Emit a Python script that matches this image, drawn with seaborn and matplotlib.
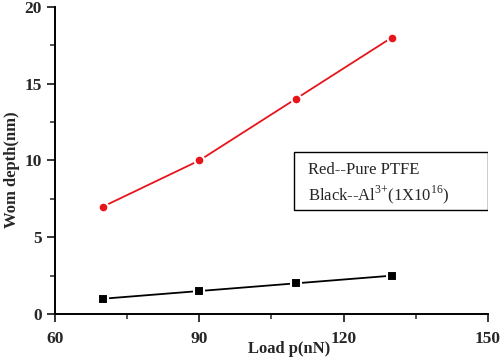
import matplotlib
matplotlib.use("Agg")
import matplotlib.pyplot as plt
from matplotlib.patches import Rectangle
from matplotlib.ticker import MultipleLocator
import seaborn as sns
import pandas as pd

# data
load = [70, 90, 110, 130]
wear_ptfe = [7, 10, 14, 18]
wear_al = [1, 1.5, 2, 2.5]
x_ticks = [60, 90, 120, 150]
y_ticks = [0, 5, 10, 15, 20]

df = pd.DataFrame({"load": load, "ptfe": wear_ptfe, "al": wear_al})

sns.set_style("ticks")
plt.rcParams["font.family"] = ["Liberation Serif", "DejaVu Serif"]
plt.rcParams["mathtext.fontset"] = "custom"
plt.rcParams["mathtext.rm"] = "Liberation Serif"

fig = plt.figure(figsize=(5, 3.61), dpi=100)
ax = fig.add_axes([0.11, 0.13, 0.866, 0.851])

sns.lineplot(data=df, x="load", y="ptfe", ax=ax, color="#e8141c", lw=1.3,
             marker="o", markersize=7, markeredgecolor="white", markeredgewidth=1.5,
             markerfacecolor="#e8141c")
sns.lineplot(data=df, x="load", y="al", ax=ax, color="black", lw=1.3,
             marker="s", markersize=6.5, markeredgecolor="white", markeredgewidth=1.5,
             markerfacecolor="black")

ax.set_xlim(60, 150)
ax.set_ylim(0, 20)
ax.set_xticks(x_ticks)
ax.set_yticks(y_ticks)
ax.xaxis.set_minor_locator(MultipleLocator(15))
ax.yaxis.set_minor_locator(MultipleLocator(2.5))
ax.tick_params(which="major", direction="out", length=6, width=1.3, labelsize=12.5)
ax.tick_params(axis="x", which="major", pad=6)
ax.tick_params(which="minor", direction="out", length=3.5, width=1.1)
for lab in ax.get_xticklabels() + ax.get_yticklabels():
    lab.set_fontweight("bold")

sns.despine(ax=ax)
for s in ["left", "bottom"]:
    ax.spines[s].set_linewidth(1.4)
    ax.spines[s].set_color("black")

ax.set_xlabel("Load p(nN)", fontsize=12, fontweight="bold")
ax.xaxis.set_label_coords(0.54, -0.088, transform=ax.transAxes)
ax.set_ylabel("Wom depth(nm)", fontsize=12, fontweight="bold")
ax.yaxis.set_label_coords(-0.1, 0.47, transform=ax.transAxes)
ax.yaxis.label.set_verticalalignment("center")

# annotation box
ax.add_patch(Rectangle((0.553, 0.339), 0.447, 0.189, transform=ax.transAxes,
                       fill=False, edgecolor="black", lw=1.0))
ax.text(0.585, 0.468, "Red--Pure PTFE", transform=ax.transAxes, fontsize=12,
        va="center", ha="left")
ax.text(0.585, 0.388, r"Black--Al$^{3{+}}$(1X10$^{16}$)", transform=ax.transAxes,
        fontsize=12, va="center", ha="left")

fig.savefig("out.png", dpi=100)
